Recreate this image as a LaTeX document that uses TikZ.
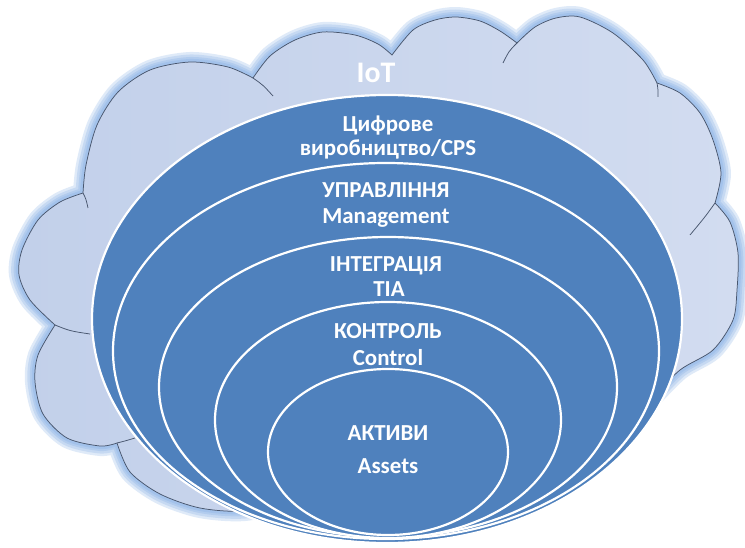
\documentclass[tikz,border=0pt]{standalone}
\usepackage{fontspec}
\setmainfont{Carlito}
\definecolor{layerblue}{RGB}{79,129,189}
\definecolor{cloudfillL}{RGB}{194,208,234}
\definecolor{cloudfillR}{RGB}{210,220,240}
\definecolor{cloudedge}{RGB}{72,86,110}
\definecolor{glowblue}{RGB}{110,160,225}
\begin{document}
\begin{tikzpicture}[x=1bp,y=-1bp,
  layer/.style={fill=layerblue, draw=white, line width=2.2bp},
  lbl/.style={text=white, font=\bfseries\fontsize{23}{25}\selectfont, anchor=base, inner sep=0pt},
  cloudline/.style={draw=cloudedge, line width=0.75bp},
  glow/.style={draw=glowblue, line join=round, line width=#1, opacity=0.22},
  cloudpath/.style={insert path={
    plot[smooth] coordinates {(290,500) (245,511) (200,508) (160,494) (130,472) (117,443)}
    -- plot[smooth] coordinates {(117,443) (100,446) (67,438) (43,414) (35,382) (38,355) (55,325)}
    -- plot[smooth] coordinates {(55,325) (30,300) (19,275) (22,250) (38,220) (60,202) (83,193)}
    -- plot[smooth] coordinates {(83,193) (86,165) (97,125) (118,92) (150,70) (190,62) (228,67) (253,78)}
    -- plot[smooth] coordinates {(253,78) (270,56) (295,40) (323,32) (355,35) (378,44) (392,55)}
    -- plot[smooth] coordinates {(392,55) (413,30) (435,20) (456,17) (480,21) (500,31) (517,43)}
    -- plot[smooth] coordinates {(517,43) (535,27) (556,18) (580,17) (613,33) (643,60) (657,83)}
    -- plot[smooth] coordinates {(657,83) (680,93) (700,113) (713,140) (721,173) (715,203)}
    -- plot[smooth] coordinates {(715,203) (730,222) (738,253) (737,290) (733,320) (713,350) (680,370) (650,400)}
    -- plot[smooth] coordinates {(650,400) (605,452) (535,495) (450,508) (360,503) (290,500)}
    -- cycle}}
]
% canvas
\fill[white] (0,0) rectangle (745,548);
\useasboundingbox (0,0) rectangle (745,548);

% soft blue halo around the cloud
\foreach \w in {20,15,10,6}{
  \path[cloudpath, glow=\w bp];
}

% cloud body
\path[cloudpath, left color=cloudfillL, right color=cloudfillR, cloudline];

% inner arcs of the cloud lobes
\draw[cloudline] (83,193) .. controls (86,199) .. (88,208);
\draw[cloudline] (253,78) .. controls (263,85) .. (273,96);
\draw[cloudline] (517,43) .. controls (509,51) .. (503,63);
\draw[cloudline] (657,83) .. controls (658,89) .. (658,97);
\draw[cloudline] (715,203) .. controls (705,217) .. (690,235);
\draw[cloudline] (55,325) .. controls (70,331) .. (90,334);
\draw[cloudline] (117,443) .. controls (125,441) .. (135,438);

% nested layers
\path[layer] (387,319) ellipse [x radius=295bp, y radius=224bp] coordinate (cps);
\path[layer] (386,351) ellipse [x radius=273bp, y radius=188bp] coordinate (mgmt);
\path[layer] (388,387) ellipse [x radius=229bp, y radius=150bp] coordinate (tia);
\path[layer] (388,420) ellipse [x radius=173bp, y radius=118bp] coordinate (ctrl);
\path[layer] (388,452) ellipse [x radius=120bp, y radius=83bp] coordinate (assets);

% labels
\node[lbl, font=\bfseries\fontsize{30}{32}\selectfont] (iot) at (376,83) {IoT};
\node[lbl] (cps1) at (388,132) {Цифрове};
\node[lbl] (cps2) at (388,156) {виробництво/CPS};
\node[lbl] (mgmt1) at (386,198) {УПРАВЛІННЯ};
\node[lbl] (mgmt2) at (386,224) {Management};
\node[lbl] (tia1) at (386,272) {ІНТЕГРАЦІЯ};
\node[lbl] (tia2) at (389,297) {TIA};
\node[lbl] (ctrl1) at (388,338) {КОНТРОЛЬ};
\node[lbl] (ctrl2) at (388,365) {Control};
\node[lbl] (assets1) at (388,440) {АКТИВИ};
\node[lbl] (assets2) at (388,473) {Assets};
\end{tikzpicture}
\end{document}
